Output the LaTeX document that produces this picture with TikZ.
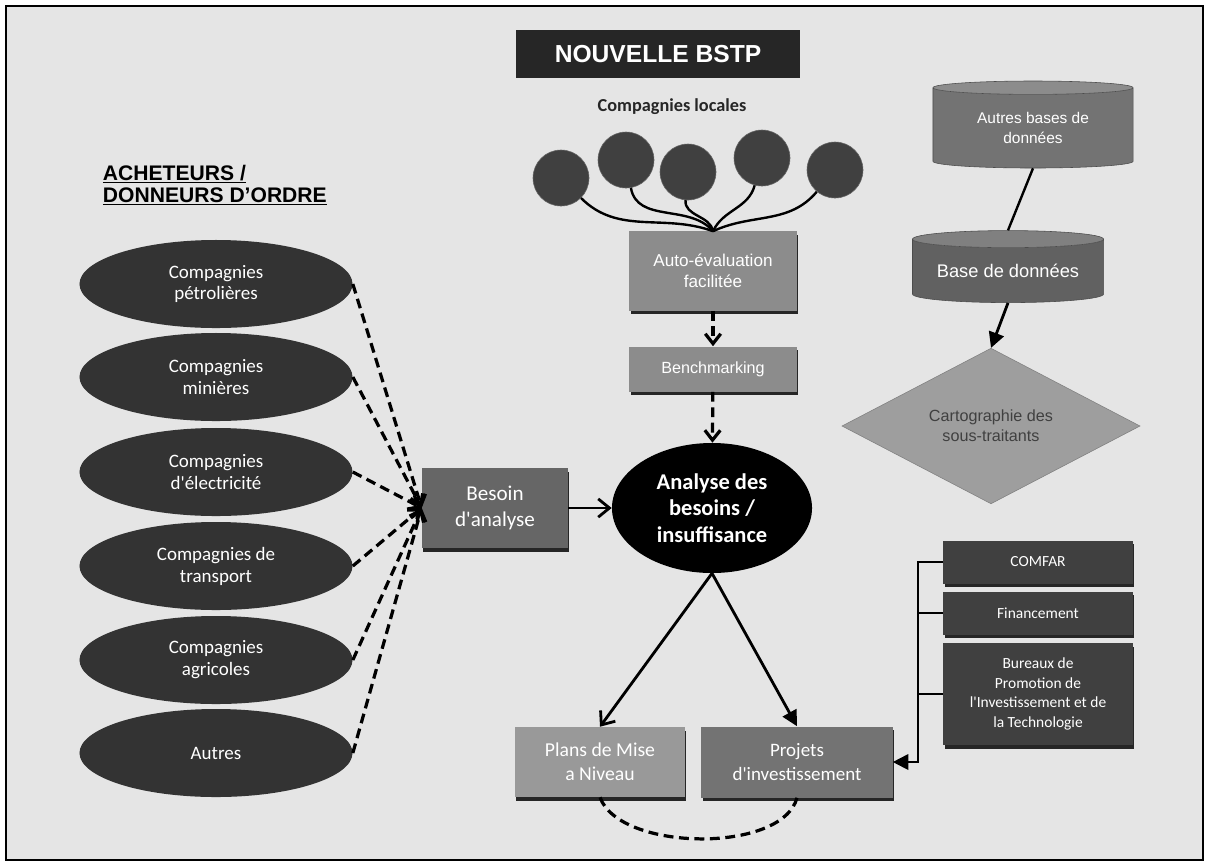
\documentclass[tikz,border=0pt]{standalone}
\usepackage{fontspec}
\setmainfont{Liberation Sans}
\newfontfamily\calib{Carlito}
\usetikzlibrary{shapes.geometric,arrows.meta,shadows}

\tikzstyle{darkEllipse}=[shape = ellipse, fill = black!80, text = white, minimum width = 6.825cm, minimum height = 2.2cm, inner sep = 0pt, align = center, font = \calib\fontsize{13.5}{15.6}\selectfont]
\tikzstyle{shadedBox}=[shape = rectangle, text = white, inner sep = 2pt, align = center, drop shadow = {shadow xshift = 1pt, shadow yshift = -2.5pt, fill = black!85, opacity = 1}]
\tikzstyle{dbStyle}=[shape = cylinder, shape border rotate = 90, aspect = 0.12, draw = black!70, cylinder uses custom fill, text = white, align = center, inner sep = 0pt]

\begin{document}
\begin{tikzpicture}[x = 0.025cm, y = -0.025cm]
\tikzstyle{dashArrow}=[dash pattern = on 7pt off 4pt, line width = 2.3pt, -{Straight Barb[length = 7pt, width = 11pt]}]
\tikzstyle{solidArrow}=[line width = 2pt, -{Straight Barb[length = 8pt, width = 13pt]}]
\tikzstyle{fullArrow}=[line width = 2pt, -{Triangle[length = 11pt, width = 11pt]}]
\tikzstyle{smallBall}=[shape = circle, fill = black!75, draw = black!60, minimum size = 1.4cm, inner sep = 0pt]
\tikzstyle{darkBox}=[shadedBox, fill = black!75, minimum width = 4.725cm, font = \calib\fontsize{11}{14}\selectfont]

% fond et cadre
\useasboundingbox (0,0) rectangle (1210,864);
\draw[fill = gray!20, line width = 0.8pt] (6,6) rectangle (1203,860);

% titre
\node[fill = black!85, text = white, minimum width = 7.075cm, minimum height = 1.175cm, font = \bfseries\fontsize{17.5}{20}\selectfont] (titre) at (658,54) {NOUVELLE BSTP};
\node[text = black!85, font = \calib\bfseries\fontsize{13}{15}\selectfont] (locales) at (672,107) {Compagnies locales};

% compagnies locales
\node[smallBall] (c1) at (561,178) {};
\node[smallBall] (c2) at (626,160) {};
\node[smallBall] (c3) at (688,172) {};
\node[smallBall] (c4) at (762,158) {};
\node[smallBall] (c5) at (835,170) {};

\node[shadedBox, fill = black!45, minimum width = 4.175cm, minimum height = 1.975cm, font = \fontsize{12.2}{15}\selectfont] (autoEval) at (713,271) {Auto-évaluation\\facilitée};
\coordinate (hub) at (autoEval.north);
\draw[line width = 1.7pt] (c1) to[out = -45, in = 160] (hub);
\draw[line width = 1.7pt] (c2) to[out = -80, in = 130] (hub);
\draw[line width = 1.7pt] (c3) to[out = -95, in = 100] (hub);
\draw[line width = 1.7pt] (c4) to[out = -105, in = 65] (hub);
\draw[line width = 1.7pt] (c5) to[out = -130, in = 25] (hub);

\node[shadedBox, fill = black!45, minimum width = 4.175cm, minimum height = 1.125cm, font = \fontsize{11.5}{14}\selectfont] (bench) at (713,369) {Benchmarking};
\node[shape = ellipse, fill = black, text = white, minimum width = 5cm, minimum height = 3.25cm, inner sep = 0pt, align = center, font = \calib\bfseries\fontsize{16}{19}\selectfont] (analyse) at (712,508) {Analyse des\\besoins /\\insuffisance};
\draw[dashArrow] (autoEval) -- (bench);
\draw[dashArrow] (bench) -- (analyse);

% acheteurs
\node[anchor = west, align = left, font = \bfseries\fontsize{15}{15.6}\selectfont] (acheteurs) at (98,185) {\underline{ACHETEURS /}\\\underline{DONNEURS D'ORDRE}};
\node[darkEllipse] (e1) at (216,284) {Compagnies\\pétrolières};
\node[darkEllipse] (e2) at (216,377) {Compagnies\\minières};
\node[darkEllipse] (e3) at (216,472) {Compagnies\\d'électricité};
\node[darkEllipse] (e4) at (216,566) {Compagnies de\\transport};
\node[darkEllipse] (e5) at (216,660) {Compagnies\\agricoles};
\node[darkEllipse] (e6) at (216,753) {Autres};

\node[shadedBox, fill = black!60, minimum width = 3.65cm, minimum height = 2cm, font = \calib\fontsize{15}{18}\selectfont] (besoin) at (495,508) {Besoin\\d'analyse};
\foreach \e in {e1,e2,e3,e4,e5,e6}
  \draw[dashArrow] (\e.east) -- (besoin.west);
\draw[solidArrow] (besoin) -- (analyse);

% bases de donnees
\node[dbStyle, cylinder body fill = black!55, cylinder end fill = black!45, minimum width = 5cm, minimum height = 2.175cm, font = \fontsize{11}{14}\selectfont] (autres) at (1033,128) {Autres bases de\\données};
\node[dbStyle, cylinder body fill = black!62, cylinder end fill = black!50, minimum width = 4.775cm, minimum height = 1.8cm, font = \fontsize{13}{15}\selectfont] (base) at (1008,271) {Base de données};
\node[shape = diamond, fill = black!38, draw = black!50, text = black!75, minimum width = 7.45cm, minimum height = 2.825cm, inner sep = 0pt, align = center, font = \fontsize{11.5}{14}\selectfont] (carto) at (991,426) {Cartographie des\\sous-traitants};
\draw[line width = 1.7pt] (autres.south) -- (base.north);
\draw[fullArrow] (base.south) -- (carto.north);

% appuis
\node[darkBox, minimum height = 1.075cm] (comfar) at (1038,562) {COMFAR};
\node[darkBox, minimum height = 1.075cm] (financement) at (1038,613) {Financement};
\node[darkBox, minimum height = 2.55cm] (bureaux) at (1038,694) {Bureaux de\\Promotion de\\l'Investissement et de\\la Technologie};

% resultats
\node[shadedBox, fill = black!40, minimum width = 4.25cm, minimum height = 1.75cm, font = \calib\fontsize{14}{17}\selectfont] (plans) at (600,762) {Plans de Mise\\a Niveau};
\node[shadedBox, fill = black!55, minimum width = 4.775cm, minimum height = 1.775cm, font = \calib\fontsize{13.5}{17}\selectfont] (projets) at (797,762) {Projets\\d'investissement};
\draw[solidArrow] (analyse.south) -- (plans.north);
\draw[fullArrow] (analyse.south) -- (projets.north);
\draw[dash pattern = on 7pt off 4pt, line width = 2.3pt] (plans.south) to[out = -70, in = -105, looseness = 0.75] (projets.south);

\coordinate (brk) at (918,762);
\draw[line width = 1.4pt, -{Triangle[length = 11pt, width = 11pt]}] (comfar.west) -| (brk) -- (projets.east);
\draw[line width = 1.4pt] (financement.west) -- (financement.west -| brk);
\draw[line width = 1.4pt] (bureaux.west) -- (bureaux.west -| brk);
\end{tikzpicture}
\end{document}
